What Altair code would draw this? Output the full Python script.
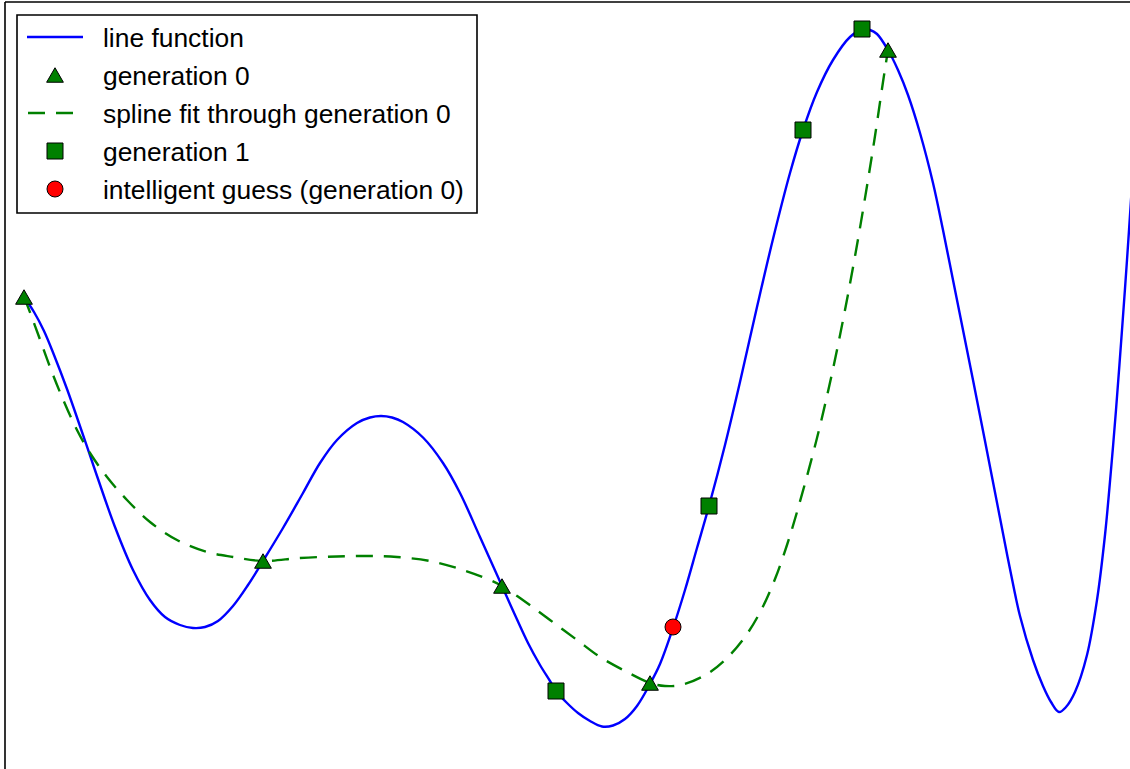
import altair as alt
import pandas as pd

# "line function": sampled curve (x, y)
line_x = [0.19, 0.29, 0.39, 0.49, 0.62, 0.77, 0.92, 1.10, 1.28, 1.45, 1.60, 1.75, 1.88,
          2.00, 2.13, 2.28, 2.43, 2.58, 2.78, 2.98, 3.15, 3.32, 3.52, 3.65, 3.76, 3.87,
          3.98, 4.18, 4.38, 4.55, 4.75, 4.97, 5.10, 5.23, 5.35, 5.45, 5.51, 5.62, 5.73,
          5.85, 5.97, 6.08, 6.20, 6.32, 6.45, 6.55, 6.68, 6.80, 6.92, 7.04, 7.20, 7.35,
          7.52, 7.68, 7.85, 7.98, 8.12, 8.28, 8.45, 8.57, 8.65, 8.72, 8.83, 8.93, 9.03,
          9.15, 9.28, 9.38, 9.48, 9.58, 9.68, 9.80, 9.95, 10.05, 10.15, 10.28, 10.38,
          10.46, 10.54, 10.61, 10.70, 10.82, 10.92, 11.00, 11.06, 11.11, 11.17, 11.22,
          11.27]
line_y = [4.72, 4.57, 4.38, 4.14, 3.80, 3.37, 2.93, 2.42, 1.99, 1.69, 1.52, 1.44, 1.41,
          1.42, 1.48, 1.63, 1.84, 2.08, 2.41, 2.76, 3.06, 3.29, 3.46, 3.515, 3.53, 3.515,
          3.47, 3.315, 3.06, 2.76, 2.32, 1.83, 1.54, 1.26, 1.04, 0.88, 0.78, 0.66, 0.56,
          0.48, 0.425, 0.435, 0.50, 0.63, 0.85, 1.05, 1.41, 1.79, 2.21, 2.63, 3.24, 3.87,
          4.62, 5.30, 5.96, 6.39, 6.77, 7.09, 7.32, 7.395, 7.39, 7.35, 7.19, 6.99, 6.74,
          6.36, 5.86, 5.39, 4.89, 4.39, 3.89, 3.28, 2.51, 2.00, 1.53, 1.09, 0.83,
          0.67, 0.57, 0.62, 0.77, 1.14, 1.69, 2.34, 2.99, 3.59, 4.39, 5.09,
          5.84]

# spline fit through generation 0
spline_x = [0.19, 0.23, 0.33, 0.45, 0.57, 0.72, 0.85, 1.02, 1.22, 1.45, 1.72, 2.02, 2.28,
            2.58, 2.95, 3.32, 3.65, 3.92, 4.25, 4.58, 4.85, 4.97, 5.22, 5.45, 5.72, 5.95,
            6.22, 6.45, 6.60, 6.78, 7.02, 7.22, 7.42, 7.57, 7.70, 7.82, 7.94, 8.12, 8.27,
            8.40, 8.52, 8.62, 8.70, 8.78, 8.83]
spline_y = [4.72, 4.62, 4.35, 4.02, 3.72, 3.39, 3.16, 2.92, 2.69, 2.47, 2.29, 2.17, 2.12,
            2.08, 2.11, 2.125, 2.13, 2.12, 2.08, 1.99, 1.89, 1.83, 1.66, 1.49, 1.29, 1.12,
            0.97, 0.86, 0.83, 0.845, 0.95, 1.11, 1.35, 1.605, 1.90, 2.24, 2.64, 3.31, 3.955,
            4.59, 5.24, 5.83, 6.33, 6.87, 7.19]

gen0_x = [0.19, 2.58, 4.97, 6.45, 8.83]
gen0_y = [4.72, 2.08, 1.83, 0.86, 7.19]

gen1_x = [5.51, 7.04, 7.98, 8.57]
gen1_y = [0.78, 2.63, 6.39, 7.40]

guess_x = [6.68]
guess_y = [1.42]

legend_labels = ["line function", "generation 0", "spline fit through generation 0",
                 "generation 1", "intelligent guess (generation 0)"]
legend_kinds = ["line", "triangle", "dashed", "square", "circle"]

# ---- styling / layout ----
W, H = 1125, 767
BLUE, GREEN, RED = "#0000ff", "#008000", "#ff0000"
FONT = "Liberation Sans"
TRI_SIZE = 280
BOX_SIZE = 256
LINE_W = 2.4
DASH = [17, 11]
SMOOTH = "catmull-rom"

xs = alt.Scale(domain=[0, 11.25], nice=False, zero=False)
ys = alt.Scale(domain=[0, 7.67], nice=False, zero=False)

line_df = pd.DataFrame({"x": line_x, "y": line_y})
spline_df = pd.DataFrame({"x": spline_x, "y": spline_y})
gen0_df = pd.DataFrame({"x": gen0_x, "y": gen0_y})
gen1_df = pd.DataFrame({"x": gen1_x, "y": gen1_y})
guess_df = pd.DataFrame({"x": guess_x, "y": guess_y})

X = alt.X("x:Q", scale=xs, axis=None)
Y = alt.Y("y:Q", scale=ys, axis=None)

curve = alt.Chart(line_df).mark_line(
    color=BLUE, strokeWidth=LINE_W, interpolate=SMOOTH, clip=True
).encode(x=X, y=Y)

spline = alt.Chart(spline_df).mark_line(
    color=GREEN, strokeWidth=LINE_W, strokeDash=DASH, interpolate=SMOOTH, clip=True
).encode(x=X, y=Y)

tri = alt.Chart(gen0_df).mark_point(
    shape="triangle-up", filled=True, fill=GREEN, stroke="black", strokeWidth=1,
    size=TRI_SIZE, opacity=1
).encode(x=X, y=Y)

sq = alt.Chart(gen1_df).mark_point(
    shape="square", filled=True, fill=GREEN, stroke="black", strokeWidth=1,
    size=BOX_SIZE, opacity=1
).encode(x=X, y=Y)

circ = alt.Chart(guess_df).mark_point(
    shape="circle", filled=True, fill=RED, stroke="black", strokeWidth=1,
    size=BOX_SIZE, opacity=1
).encode(x=X, y=Y)

plot = alt.layer(curve, spline, tri, sq, circ)

# ---- legend box ----
leg_df = pd.DataFrame({"label": legend_labels, "kind": legend_kinds,
                       "row": list(range(len(legend_labels)))})
ROW = alt.Y("row:Q", axis=None,
            scale=alt.Scale(domain=[0, 4], range=[35, 187], nice=False, zero=False))
one = pd.DataFrame({"a": [0]})

box = alt.Chart(one).mark_rect(
    fill="white", stroke="black", strokeWidth=1.6
).encode(x=alt.value(12), x2=alt.value(472), y=alt.value(13), y2=alt.value(211))

leg_base = alt.Chart(leg_df)
leg_line = leg_base.transform_filter(alt.datum.kind == "line").mark_rule(
    color=BLUE, strokeWidth=LINE_W
).encode(x=alt.value(22), x2=alt.value(78), y=ROW)
leg_dash = leg_base.transform_filter(alt.datum.kind == "dashed").mark_rule(
    color=GREEN, strokeWidth=LINE_W, strokeDash=DASH
).encode(x=alt.value(23), x2=alt.value(78), y=ROW)
leg_tri = leg_base.transform_filter(alt.datum.kind == "triangle").mark_point(
    shape="triangle-up", filled=True, fill=GREEN, stroke="black", strokeWidth=1,
    size=TRI_SIZE, opacity=1
).encode(x=alt.value(50), y=ROW)
leg_sq = leg_base.transform_filter(alt.datum.kind == "square").mark_point(
    shape="square", filled=True, fill=GREEN, stroke="black", strokeWidth=1,
    size=BOX_SIZE, opacity=1
).encode(x=alt.value(50), y=ROW)
leg_circ = leg_base.transform_filter(alt.datum.kind == "circle").mark_point(
    shape="circle", filled=True, fill=RED, stroke="black", strokeWidth=1,
    size=BOX_SIZE, opacity=1
).encode(x=alt.value(50), y=ROW)
leg_text = leg_base.mark_text(
    align="left", baseline="alphabetic", font=FONT, fontSize=26.4, color="black", dy=9.5
).encode(x=alt.value(98), y=ROW, text="label:N")

legend = alt.layer(box, leg_line, leg_tri, leg_dash, leg_sq, leg_circ, leg_text)

# frame: top and left edges of the axes box
frame_top = alt.Chart(one).mark_rule(color="black", strokeWidth=1.6).encode(
    x=alt.value(0), x2=alt.value(W), y=alt.value(0))
frame_left = alt.Chart(one).mark_rule(color="black", strokeWidth=1.6).encode(
    x=alt.value(0), y=alt.value(0), y2=alt.value(H))

chart = alt.layer(plot, legend, frame_top, frame_left).resolve_scale(
    y="independent"
).properties(
    width=W, height=H,
    padding={"left": 5, "top": 2, "right": 0, "bottom": 0},
    autosize="none", background="white"
).configure_view(stroke=None)

chart.save("out.html", embed_options={"renderer": "svg", "actions": False})
